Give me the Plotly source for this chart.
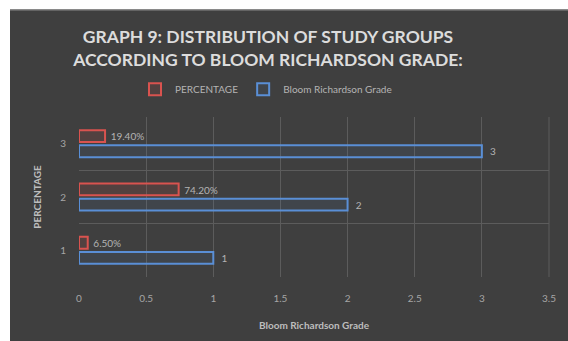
import plotly.graph_objects as go

# Study group categories and their values
groups = [1, 2, 3]
percentage = [0.065, 0.742, 0.194]          # share of study group
bloom_grade = [1, 2, 3]                      # Bloom Richardson grade

W, H = 568, 341
L, R, T, B = 79, 19, 117, 62
pw, ph = W - L - R, H - T - B

def px_x(x):
    return (x - L) / pw

def px_y(y):
    return (H - B - y) / ph

BG = "#3f3f3f"
TXT = "#b4b4b4"
FONT = "Lato, Open Sans, sans-serif"

fig = go.Figure()

# Blue first so it sits below the red bar in each group
fig.add_trace(go.Bar(
    y=groups, x=bloom_grade, orientation="h", name="Bloom Richardson Grade",
    marker=dict(color="rgba(79,129,189,0.10)", line=dict(color="#5a8fd6", width=2)),
    texttemplate="  %{x}", textposition="outside",
    textfont=dict(color=TXT, size=11, family=FONT), cliponaxis=False,
    legendrank=2,
))
fig.add_trace(go.Bar(
    y=groups, x=percentage, orientation="h", name="PERCENTAGE",
    marker=dict(color="rgba(192,80,77,0.15)", line=dict(color="#d9534f", width=2)),
    texttemplate=" %{x:.2%}", textposition="outside",
    textfont=dict(color=TXT, size=11, family=FONT), cliponaxis=False,
    legendrank=1,
))

fig.update_layout(
    width=W, height=H,
    margin=dict(l=L, r=R, t=T, b=B, pad=0),
    paper_bgcolor=BG, plot_bgcolor=BG,
    barmode="group", bargap=0.43, bargroupgap=0.22,
    font=dict(family=FONT, color=TXT, size=11),
    title=dict(
        text="<b>GRAPH 9: DISTRIBUTION OF STUDY GROUPS<br>ACCORDING TO BLOOM RICHARDSON GRADE:</b>",
        x=268 / W, xref="container", xanchor="center",
        y=1 - 43 / H, yref="container", yanchor="middle",
        font=dict(size=17.5, color="#dcdcdc", family=FONT),
    ),
    legend=dict(
        orientation="h", x=px_x(266), xanchor="center", y=px_y(89), yanchor="middle",
        font=dict(size=10, color=TXT, family=FONT), bgcolor="rgba(0,0,0,0)",
        tracegroupgap=0,
    ),
    xaxis=dict(
        range=[0, 3.5], dtick=0.5, showgrid=True, gridcolor="#5c5c5c", gridwidth=1,
        zeroline=False, showline=False, ticks="", tickfont=dict(size=10, color="#a6a6a6"),
        ticklabelstandoff=14,
        title=dict(text="<b>Bloom Richardson Grade</b>", font=dict(size=10, color="#bdbdbd"), standoff=18),
    ),
    yaxis=dict(
        range=[0.5, 3.5], tickvals=groups, showgrid=False, zeroline=False, showline=False,
        ticks="", tickfont=dict(size=10, color="#a6a6a6"), ticklabelstandoff=12,
        minor=dict(tickvals=[0.5, 1.5, 2.5, 3.5], showgrid=True, gridcolor="#5c5c5c", gridwidth=1, ticks=""),
        title=dict(text="<b>PERCENTAGE</b>", font=dict(size=10, color="#bdbdbd"), standoff=16),
    ),
    shapes=[
        # right edge of the grid
        dict(type="line", xref="paper", yref="paper", x0=1, x1=1, y0=0, y1=1,
             line=dict(color="#5c5c5c", width=1)),
        # white frame strips around the dark panel
        dict(type="rect", xref="paper", yref="paper", x0=px_x(-5), x1=px_x(10),
             y0=px_y(345), y1=px_y(-5), fillcolor="white", line=dict(width=0), layer="above"),
        dict(type="rect", xref="paper", yref="paper", x0=px_x(-5), x1=px_x(573),
             y0=px_y(8), y1=px_y(-5), fillcolor="white", line=dict(width=0), layer="above"),
        dict(type="line", xref="paper", yref="paper", x0=px_x(10), x1=px_x(568),
             y0=px_y(8.5), y1=px_y(8.5), line=dict(color="#8a8a8a", width=1.5), layer="above"),
    ],
)

fig.write_html("out.html")
